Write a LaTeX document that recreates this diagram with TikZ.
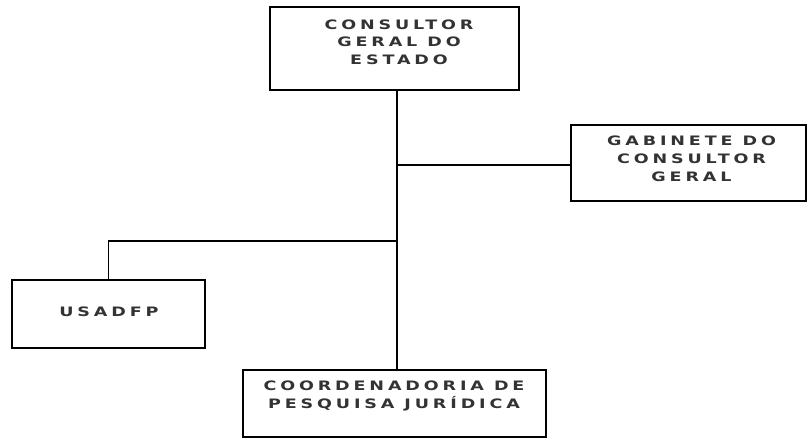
\documentclass[tikz,border=0pt]{standalone}
\usepackage{fontspec}
\usepackage{graphicx}
\setmainfont[LetterSpace=22]{DejaVu Sans}
\newcommand\wideln[1]{\scalebox{1.35}[1]{#1}}
\begin{document}
\begin{tikzpicture}[x=1pt,y=-1pt,
  orgbox/.style={draw=black, line width=1.3pt, inner sep=0pt, rectangle},
  txt/.style={inner sep=0pt, align=center, text=black!80},
  wire/.style={draw=black, line width=1.3pt}]
\useasboundingbox (0,0) rectangle (808,439);
% boxes
\node[orgbox, minimum width=249pt, minimum height=83pt] (top) at (394.5,48.5) {};
\node[orgbox, minimum width=235pt, minimum height=76pt] (gab) at (688.5,163) {};
\node[orgbox, minimum width=193pt, minimum height=68pt] (usa) at (108.5,314) {};
\node[orgbox, minimum width=303pt, minimum height=67pt] (coord) at (394.5,403.5) {};
% texts
\node[txt, font=\bfseries\fontsize{13}{17.5}\selectfont] (toptxt) at (399,42) {\wideln{CONSULTOR}\\\wideln{GERAL DO}\\\wideln{ESTADO}};
\node[txt, font=\bfseries\fontsize{13}{18}\selectfont] (gabtxt) at (691.5,158.5) {\wideln{GABINETE DO}\\\wideln{CONSULTOR}\\\wideln{GERAL}};
\node[txt, font=\bfseries\fontsize{13}{15}\selectfont] (usatxt) at (109,312) {\wideln{USADFP}};
\node[txt, font=\bfseries\fontsize{13}{18}\selectfont] (coordtxt) at (394,395.5) {\wideln{COORDENADORIA DE}\\\wideln{PESQUISA JURÍDICA}};
% junctions
\coordinate (ja) at (397,165);
\coordinate (jb) at (397,241);
% connectors
\draw[wire] (top.south -| ja) -- (coord.north -| ja);
\draw[wire] (ja) -- (gab.west |- ja);
\draw[wire] (jb) -- (jb -| usa.north) -- (usa.north);
\end{tikzpicture}
\end{document}
